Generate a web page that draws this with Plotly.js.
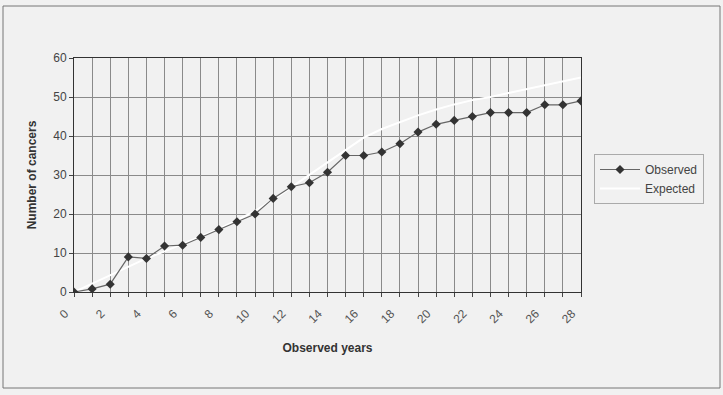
<!DOCTYPE html>
<html><head><meta charset="utf-8">
<script src="https://cdn.plot.ly/plotly-3.0.1.min.js"></script>
<style>html,body{margin:0;padding:0;background:#f1f1f1;}#chart{width:723px;height:395px;}</style>
</head><body><div id="chart"></div>
<script>
var years = [0,1,2,3,4,5,6,7,8,9,10,11,12,13,14,15,16,17,18,19,20,21,22,23,24,25,26,27,28];
var observed = [0,0.8,2,9,8.6,11.8,12,14,16,18,20,24,27,28,30.7,35,35,35.9,38,41,43,44,45,46,46,46,48,48,49];
var expected = [0,2.2,4.4,6.6,8.6,10.4,12.3,14.2,16.2,18.4,20.8,23.7,26.9,30.1,33.2,36.5,39.6,41.8,43.6,45.3,46.8,48.1,49.2,50,51,52,53,54,55];
var xTickVals = [0,2,4,6,8,10,12,14,16,18,20,22,24,26,28];
var xTickText = ['0','2','4','6','8','10','12','14','16','18','20','22','24','26','28'];

var L=74, R=581, T=58, B=292, W=723, H=395;
var pw=R-L, ph=B-T;
function px(x){return (x-L)/pw;}
function py(y){return (B-y)/ph;}

var ff = 'Liberation Sans, Arial, sans-serif';
var traces = [
 {x:years, y:expected, name:'Expected', mode:'lines', line:{color:'#ffffff', width:2}},
 {x:years, y:observed, name:'Observed', mode:'lines+markers', line:{color:'#666', width:1.2},
  marker:{symbol:'diamond', size:7, color:'#333'}}
];
var layout = {
 width:W, height:H, margin:{l:L, r:W-R, t:T, b:H-B},
 paper_bgcolor:'#f1f1f1', plot_bgcolor:'#f1f1f1', font:{family:ff, size:12, color:'#333'}, showlegend:true,
 xaxis:{range:[0,28], tickvals:xTickVals, ticktext:xTickText, tickangle:-45, ticklabelstandoff:5, ticklabelshift:-9,
   showgrid:false, zeroline:false, showline:true, linecolor:'#333', linewidth:1, mirror:true,
   ticks:'outside', ticklen:4, tickcolor:'#444',
   minor:{dtick:1, showgrid:true, gridcolor:'#8a8a8a', gridwidth:1, ticks:'outside', ticklen:4, tickcolor:'#444'},
   tickfont:{family:ff, size:12, color:'#555'},
   title:{text:'Observed years', font:{family:ff, size:12, color:'#333', weight:'bold'}, standoff:18}},
 yaxis:{range:[0,60], dtick:10, showgrid:true, gridcolor:'#8a8a8a', gridwidth:1, zeroline:false,
   showline:true, linecolor:'#333', linewidth:1, mirror:true, ticks:'outside', ticklen:4, tickcolor:'#444',
   tickfont:{family:ff, size:12, color:'#444'},
   title:{text:'Number of cancers', font:{family:ff, size:12, color:'#333', weight:'bold'}, standoff:14}},
 legend:{x:px(594), y:py(154), xanchor:'left', yanchor:'top', traceorder:'reversed', itemwidth:40,
   bgcolor:'#f1f1f1', bordercolor:'#aaa', borderwidth:1,
   font:{family:ff, size:12, color:'#444'}},
 shapes:[{type:'rect', xref:'paper', yref:'paper', x0:px(3), x1:px(720), y0:py(388), y1:py(6),
   line:{color:'#777', width:1}, layer:'below'}]
};
Plotly.newPlot('chart', traces, layout, {displayModeBar:false, staticPlot:true});
</script></body></html>
